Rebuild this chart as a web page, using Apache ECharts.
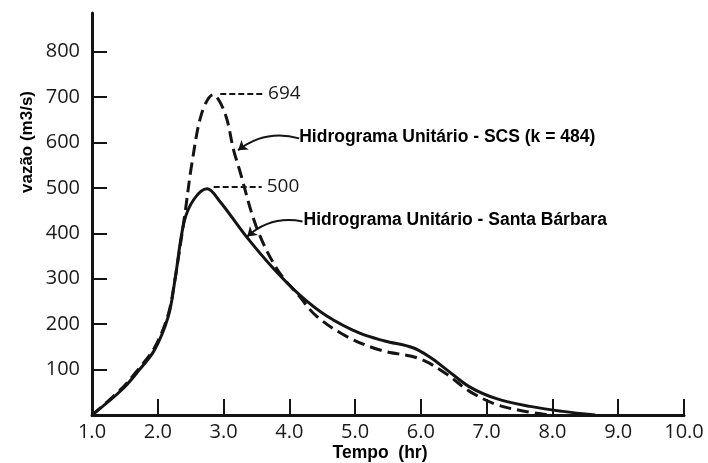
<!DOCTYPE html>
<html>
<head>
<meta charset="utf-8">
<script src="https://cdn.jsdelivr.net/npm/echarts@6/dist/echarts.min.js"></script>
<style>
  html, body { margin: 0; padding: 0; background: #fff; }
  #chart { width: 708px; height: 463px; }
</style>
</head>
<body>
<div id="chart"></div>
<script>
// ---- data ----
const xTickValues = [1, 2, 3, 4, 5, 6, 7, 8, 9, 10];
const yTickValues = [100, 200, 300, 400, 500, 600, 700, 800];

// Santa Bárbara unit hydrograph (solid)
const sbTime = [1.0, 1.45, 1.7, 1.95, 2.16, 2.26, 2.4, 2.55, 2.75, 2.945, 3.35, 3.755, 4.16, 4.57, 5.07, 5.45, 5.88, 6.14, 6.39, 6.74, 7.15, 7.66, 8.16, 8.65];
const sbFlow = [0, 55, 96, 143, 217, 296, 425, 475, 498, 470, 392, 323, 264, 218, 180, 163, 148, 127, 100, 62, 36, 19, 8, 0];

// SCS unit hydrograph (dashed)
const scsTime = [1.0, 1.45, 1.7, 1.95, 2.16, 2.26, 2.41, 2.52, 2.67, 2.84, 3.02, 3.15, 3.24, 3.5, 3.81, 4.16, 4.41, 4.87, 5.38, 5.98, 6.39, 6.74, 7.15, 7.55, 7.95];
const scsFlow = [0, 58, 100, 148, 222, 298, 440, 555, 665, 705, 665, 585, 541, 414, 322, 260, 218, 173, 143, 124, 90, 52, 23, 9, 0];

const scsPeakLabel = '694';
const sbPeakLabel = '500';
const scsName = 'Hidrograma Unitário - SCS (k = 484)';
const sbName = 'Hidrograma Unitário - Santa Bárbara';
const xName = 'Tempo  (hr)';
const yName = 'vazão (m3/s)';

const zip = (a, b) => a.map((v, i) => [v, b[i]]);

const chart = echarts.init(document.getElementById('chart'), null, { renderer: 'canvas' });
const ink = '#141414';
const tickFont = '"Open Sans", "DejaVu Sans", sans-serif';
const boldFont = '"Liberation Sans", Arial, sans-serif';

const option = {
  animation: false,
  backgroundColor: '#fff',
  grid: { left: 92, right: 24, top: 13, bottom: 48 },
  xAxis: {
    type: 'value', min: 1, max: 10, interval: 1,
    axisLine: { show: true, onZero: false, lineStyle: { color: ink, width: 3 } },
    axisTick: { show: true, inside: true, length: 16, lineStyle: { color: ink, width: 2 },
                customValues: xTickValues.slice(1) },
    axisLabel: { color: '#1a1a1a', fontSize: 20, fontFamily: tickFont, margin: 7,
                 customValues: xTickValues, formatter: v => v.toFixed(1) },
    splitLine: { show: false }
  },
  yAxis: {
    type: 'value', min: 0, max: 885,
    axisLine: { show: true, lineStyle: { color: ink, width: 3 } },
    axisTick: { show: true, inside: true, length: 15, lineStyle: { color: ink, width: 2 },
                customValues: yTickValues },
    axisLabel: { color: '#1a1a1a', fontSize: 20, fontFamily: tickFont, margin: 12,
                 customValues: yTickValues },
    splitLine: { show: false }
  },
  series: [
    {
      name: scsName, type: 'line', smooth: 0.35, showSymbol: false,
      data: zip(scsTime, scsFlow),
      lineStyle: { color: ink, width: 3, type: [12, 6] },
      markLine: {
        silent: true, symbol: 'none',
        lineStyle: { color: ink, width: 2, type: [6, 3] },
        label: { show: true, position: 'end', formatter: scsPeakLabel, color: '#1a1a1a',
                 fontSize: 19, fontFamily: tickFont, distance: 5 },
        data: [[{ coord: [2.95, 708] }, { coord: [3.6, 708] }]]
      }
    },
    {
      name: sbName, type: 'line', smooth: 0.35, showSymbol: false,
      data: zip(sbTime, sbFlow),
      lineStyle: { color: ink, width: 3 },
      markLine: {
        silent: true, symbol: 'none',
        lineStyle: { color: ink, width: 2, type: [6, 3] },
        label: { show: true, position: 'end', formatter: sbPeakLabel, color: '#1a1a1a',
                 fontSize: 19, fontFamily: tickFont, distance: 5 },
        data: [[{ coord: [2.85, 503] }, { coord: [3.58, 503] }]]
      }
    },
    {
      type: 'lines', coordinateSystem: 'cartesian2d', silent: true,
      symbol: ['none', 'arrow'], symbolSize: 9,
      lineStyle: { color: ink, width: 2, opacity: 1, curveness: -0.25 },
      data: [
        { coords: [[4.15, 609], [3.22, 583]] },
        { coords: [[4.2, 426], [3.36, 393]] }
      ]
    }
  ]
};
chart.setOption(option);

const pScs = chart.convertToPixel({ gridIndex: 0 }, [4.15, 609]);
const pSb = chart.convertToPixel({ gridIndex: 0 }, [4.2, 426]);
chart.setOption({
  graphic: [
    { type: 'text', x: pScs[0], y: pScs[1] - 1,
      style: { text: scsName, fill: '#000', font: 'bold 17.5px ' + boldFont, align: 'left', verticalAlign: 'middle' } },
    { type: 'text', x: pSb[0] + 1, y: pSb[1] - 1,
      style: { text: sbName, fill: '#000', font: 'bold 17.5px ' + boldFont, align: 'left', verticalAlign: 'middle' } },
    { type: 'text', x: 380, y: 453,
      style: { text: xName, fill: '#000', font: 'bold 17.5px ' + boldFont, align: 'center', verticalAlign: 'middle' } },
    { type: 'text', x: 27, y: 142, rotation: Math.PI / 2,
      style: { text: yName, fill: '#000', font: 'bold 17px ' + boldFont, align: 'center', verticalAlign: 'middle' } }
  ]
});
</script>
</body>
</html>
